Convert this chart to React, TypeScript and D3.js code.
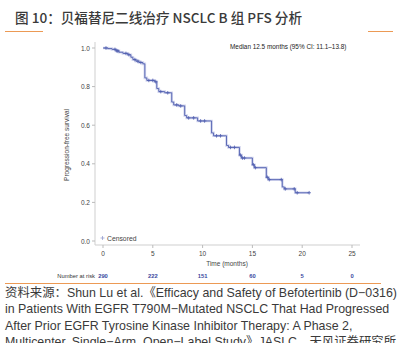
import React from "react";
import * as d3 from "d3";

const title = "图 10：贝福替尼二线治疗 NSCLC B 组 PFS 分析";
const medianLabel = "Median 12.5 months (95% CI: 11.1–13.8)";
const eventTimes = [0, 0.5, 0.9, 1.3, 1.6, 2.0, 2.5, 2.8, 3.0, 3.3, 3.6, 4.0, 4.2, 4.4, 5.2, 5.4, 5.6, 6.2, 6.9, 7.1, 7.6, 8.2, 8.4, 9.5, 10.9, 11.1, 12.4, 12.6, 13.7, 13.9, 15.0, 15.2, 16.4, 16.6, 18.0, 18.2, 19.3];
const survival = [1.0, 0.997, 0.993, 0.985, 0.978, 0.972, 0.965, 0.952, 0.94, 0.932, 0.925, 0.918, 0.845, 0.832, 0.825, 0.79, 0.774, 0.768, 0.72, 0.705, 0.7, 0.65, 0.638, 0.622, 0.56, 0.545, 0.495, 0.485, 0.445, 0.43, 0.395, 0.38, 0.33, 0.318, 0.28, 0.27, 0.25];
const lastTime = 20.7;
const censorTimes = [0.3, 1.2, 1.4, 1.5, 2.3, 2.6, 3.2, 3.5, 3.8, 4.6, 5.0, 5.3, 5.8, 6.5, 7.4, 7.8, 8.6, 9.1, 9.8, 10.2, 11.4, 11.8, 12.8, 13.2, 13.8, 14.0, 14.2, 15.1, 15.3, 16.5, 16.7, 17.9, 18.3, 19.2, 19.5, 20.7];
const xTicks = [0, 5, 10, 15, 20, 25];
const yTicks = [0, 0.2, 0.4, 0.6, 0.8, 1.0];
const atRisk = [290, 222, 151, 60, 5, 0];
const sourceLines = [
  "资料来源：Shun Lu et al.《Efficacy and Safety of Befotertinib (D−0316)",
  "in Patients With EGFR T790M−Mutated NSCLC That Had Progressed",
  "After Prior EGFR Tyrosine Kinase Inhibitor Therapy: A Phase 2,",
  "Multicenter, Single−Arm, Open−Label Study》JASLC，天风证券研究所",
];

const FONT = "'Liberation Sans', Arial, 'Noto Sans CJK SC', sans-serif";
const ORANGE = "#ec9a55";
const BLUE = "#5060b0";

export default function App() {
  const x = d3.scaleLinear().domain([0, 25]).range([103, 352]);
  const y = d3.scaleLinear().domain([0, 1]).range([241, 48]);

  const pts: [number, number][] = eventTimes.map((t, i) => [t, survival[i]]);
  pts.push([lastTime, survival[survival.length - 1]]);
  const line = d3
    .line<[number, number]>()
    .x((d) => x(d[0]))
    .y((d) => y(d[1]))
    .curve(d3.curveStepAfter);

  const survAt = (t: number) => {
    let s = 1;
    for (let i = 0; i < eventTimes.length; i++) if (eventTimes[i] <= t) s = survival[i];
    return s;
  };

  return (
    <svg width={398} height={343} style={{ position: "absolute", left: 0, top: 0, background: "#fff" }} fontFamily={FONT}>
      <text x={15} y={23} fontSize={13.6} fontWeight={500} fill="#3a3a3a" fontFamily="'Noto Sans CJK SC', sans-serif">{title}</text>
      <line x1={5} x2={43} y1={31.5} y2={31.5} stroke={ORANGE} strokeWidth={1} />
      <line x1={368} x2={393} y1={31.5} y2={31.5} stroke={ORANGE} strokeWidth={1} />

      {/* axes */}
      <line x1={95} x2={95} y1={42} y2={245} stroke="#cfcfcf" strokeWidth={1} />
      <line x1={95} x2={360} y1={245} y2={245} stroke="#cfcfcf" strokeWidth={1} />
      {yTicks.map((v) => (
        <g key={v}>
          <line x1={92} x2={95} y1={y(v)} y2={y(v)} stroke="#bbb" />
          <text x={90} y={y(v) + 2.5} fontSize={6.5} textAnchor="end" fill="#444">{v.toFixed(1)}</text>
        </g>
      ))}
      {xTicks.map((v) => (
        <g key={v}>
          <line x1={x(v)} x2={x(v)} y1={245} y2={248} stroke="#bbb" />
          <text x={x(v)} y={256} fontSize={6.5} textAnchor="middle" fill="#444">{v}</text>
        </g>
      ))}
      <text x={227} y={266} fontSize={6.5} textAnchor="middle" fill="#444">Time (months)</text>
      <text transform={`translate(69,145) rotate(-90)`} fontSize={6.5} textAnchor="middle" fill="#444">Progression-free survival</text>

      {/* curve */}
      <path d={line(pts) ?? ""} fill="none" stroke="#d3d6ee" strokeWidth={2.6} />
      <path d={line(pts) ?? ""} fill="none" stroke={BLUE} strokeWidth={0.9} />
      {censorTimes.map((t, i) => {
        const cx = x(t);
        const cy = y(survAt(t));
        return (
          <g key={i} stroke={BLUE} strokeWidth={0.8}>
            <line x1={cx - 1.8} x2={cx + 1.8} y1={cy} y2={cy} />
            <line x1={cx} x2={cx} y1={cy - 1.8} y2={cy + 1.8} />
          </g>
        );
      })}

      <text x={230} y={49} fontSize={6.4} fill="#222">{medianLabel}</text>

      {/* legend */}
      <g stroke="#8a94cc" strokeWidth={0.7}>
        <line x1={100.5} x2={104.5} y1={238} y2={238} />
        <line x1={102.5} x2={102.5} y1={236} y2={240} />
      </g>
      <text x={107} y={240.5} fontSize={6.8} fill="#444">Censored</text>

      {/* number at risk */}
      <text x={95} y={277.5} fontSize={5.8} textAnchor="end" fill="#333">Number at risk</text>
      {atRisk.map((n, i) => (
        <text key={i} x={x(xTicks[i])} y={277.5} fontSize={5.8} textAnchor="middle" fill="#3a48a0" fontWeight="bold">{n}</text>
      ))}
      <line x1={5} x2={381} y1={283.5} y2={283.5} stroke={ORANGE} strokeWidth={1} />

      {sourceLines.map((s, i) => (
        <text key={i} x={5} y={297 + i * 16.4} fontSize={12.4} fill="#3a3a3a">{s}</text>
      ))}
    </svg>
  );
}
